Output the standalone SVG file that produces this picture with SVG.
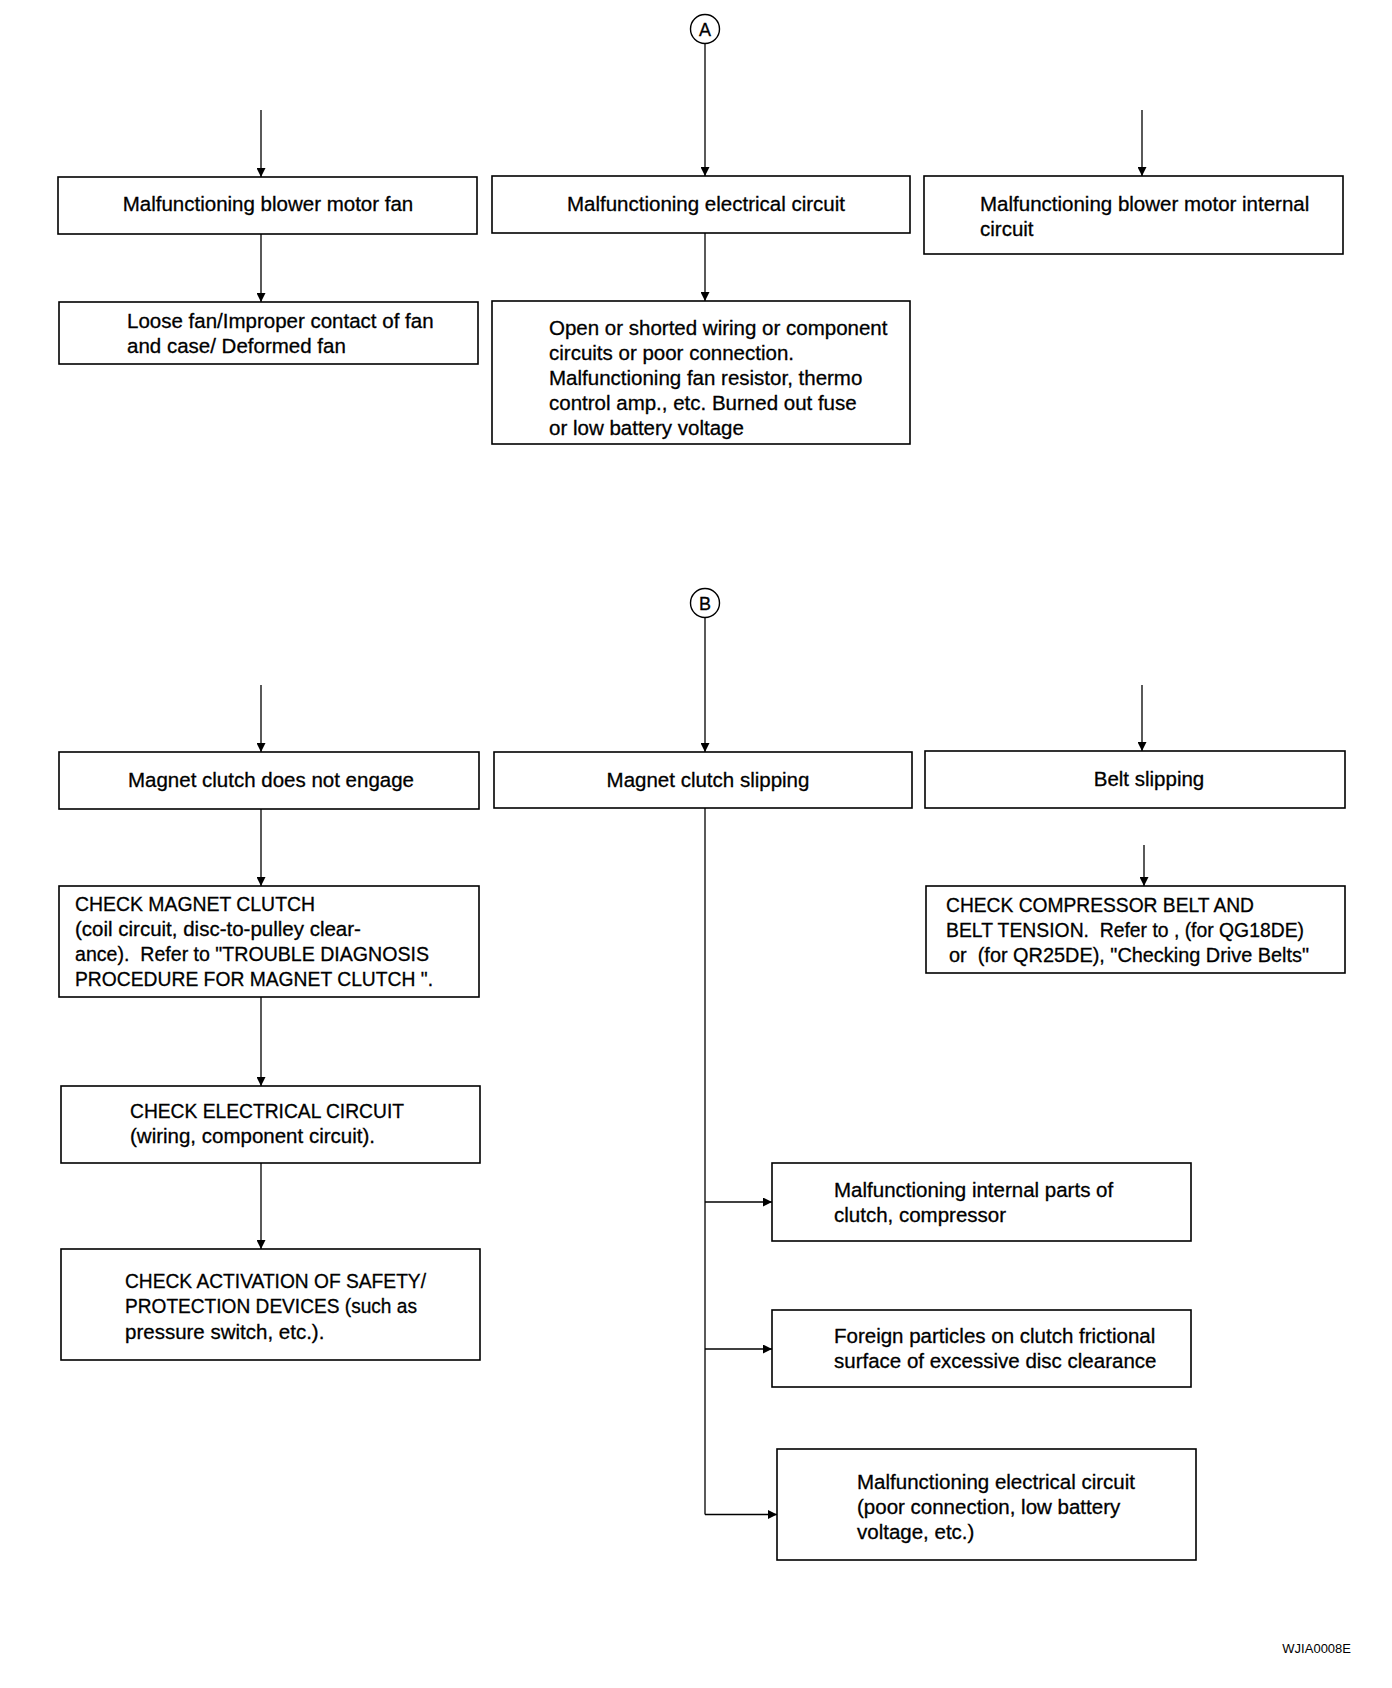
<svg xmlns="http://www.w3.org/2000/svg" width="1392" height="1688" viewBox="0 0 1392 1688">
<style>
  .box { fill: #fff; stroke: #000; stroke-width: 1.6; }
  .t { font-family: "Liberation Sans", Arial, Helvetica, sans-serif; font-size: 20.5px; fill: #000; stroke: #000; stroke-width: 0.3; white-space: pre; }
  .c { text-anchor: middle; }
  .ln { stroke: #000; stroke-width: 1.3; fill: none; }
  .ar { marker-end: url(#ah); }
  .circ { fill: #fff; stroke: #000; stroke-width: 1.4; }
  .lbl { font-family: "Liberation Sans", Arial, Helvetica, sans-serif; font-size: 18px; fill: #000; stroke: #000; stroke-width: 0.3; text-anchor: middle; }
  .id { font-family: "Liberation Sans", Arial, Helvetica, sans-serif; font-size: 13px; fill: #000; text-anchor: end; }
</style>
<defs>
  <marker id="ah" markerUnits="userSpaceOnUse" markerWidth="9" markerHeight="9" refX="9" refY="4.5" orient="auto">
    <path d="M0,0 L9,4.5 L0,9 z" fill="#000"/>
  </marker>
</defs>
<rect width="1392" height="1688" fill="#fff"/>

<g id="connectors">
  <line class="ln ar" x1="705" y1="44" x2="705" y2="176"/>
  <line class="ln ar" x1="261" y1="110" x2="261" y2="177"/>
  <line class="ln ar" x1="1142" y1="110" x2="1142" y2="176"/>
  <line class="ln ar" x1="261" y1="234" x2="261" y2="302"/>
  <line class="ln ar" x1="705" y1="233" x2="705" y2="301"/>
  <line class="ln ar" x1="705" y1="617" x2="705" y2="752"/>
  <line class="ln ar" x1="261" y1="685" x2="261" y2="752"/>
  <line class="ln ar" x1="1142" y1="685" x2="1142" y2="751"/>
  <line class="ln ar" x1="261" y1="809" x2="261" y2="886"/>
  <line class="ln ar" x1="261" y1="997" x2="261" y2="1086"/>
  <line class="ln ar" x1="261" y1="1163" x2="261" y2="1249"/>
  <line class="ln ar" x1="1144" y1="845" x2="1144" y2="886"/>
  <line class="ln" x1="705" y1="808" x2="705" y2="1514.5"/>
  <line class="ln ar" x1="705" y1="1202" x2="772" y2="1202"/>
  <line class="ln ar" x1="705" y1="1349" x2="772" y2="1349"/>
  <line class="ln ar" x1="705" y1="1514.5" x2="777" y2="1514.5"/>
</g>

<g id="conn-A">
  <circle class="circ" cx="705" cy="29" r="14.5"/>
  <text class="lbl" x="705" y="35.5">A</text>
</g>
<g id="conn-B">
  <circle class="circ" cx="705" cy="603" r="14.5"/>
  <text class="lbl" x="705" y="609.5">B</text>
</g>

<g id="n-blower-fan">
  <rect class="box" x="58" y="177" width="419" height="57"/>
  <text class="t c" x="268" y="211">Malfunctioning blower motor fan</text>
</g>
<g id="n-elec-circuit">
  <rect class="box" x="492" y="176" width="418" height="57"/>
  <text class="t c" x="706" y="211">Malfunctioning electrical circuit</text>
</g>
<g id="n-blower-internal">
  <rect class="box" x="924" y="176" width="419" height="78"/>
  <text class="t" x="980" y="211">Malfunctioning blower motor internal</text>
  <text class="t" x="980" y="236">circuit</text>
</g>
<g id="n-loose-fan">
  <rect class="box" x="59" y="302" width="419" height="62"/>
  <text class="t" x="127" y="328">Loose fan/Improper contact of fan</text>
  <text class="t" x="127" y="353">and case/ Deformed fan</text>
</g>
<g id="n-open-shorted">
  <rect class="box" x="492" y="301" width="418" height="143"/>
  <text class="t" x="549" y="335">Open or shorted wiring or component</text>
  <text class="t" x="549" y="360">circuits or poor connection.</text>
  <text class="t" x="549" y="385">Malfunctioning fan resistor, thermo</text>
  <text class="t" x="549" y="410">control amp., etc. Burned out fuse</text>
  <text class="t" x="549" y="435">or low battery voltage</text>
</g>

<g id="n-no-engage">
  <rect class="box" x="59" y="752" width="420" height="57"/>
  <text class="t c" x="271" y="787">Magnet clutch does not engage</text>
</g>
<g id="n-clutch-slipping">
  <rect class="box" x="494" y="752" width="418" height="56"/>
  <text class="t c" x="708" y="787">Magnet clutch slipping</text>
</g>
<g id="n-belt-slipping">
  <rect class="box" x="925" y="751" width="420" height="57"/>
  <text class="t c" x="1149" y="786">Belt slipping</text>
</g>
<g id="n-check-magnet">
  <rect class="box" x="59" y="886" width="420" height="111"/>
  <text class="t" x="75" y="911" textLength="240" lengthAdjust="spacingAndGlyphs">CHECK MAGNET CLUTCH</text>
  <text class="t" x="75" y="936">(coil circuit, disc-to-pulley clear-</text>
  <text class="t" x="75" y="961" textLength="354" lengthAdjust="spacingAndGlyphs">ance).  Refer to "TROUBLE DIAGNOSIS</text>
  <text class="t" x="75" y="986" textLength="358" lengthAdjust="spacingAndGlyphs">PROCEDURE FOR MAGNET CLUTCH ".</text>
</g>
<g id="n-check-belt">
  <rect class="box" x="926" y="886" width="419" height="87"/>
  <text class="t" x="946" y="912" textLength="308" lengthAdjust="spacingAndGlyphs">CHECK COMPRESSOR BELT AND</text>
  <text class="t" x="946" y="937" textLength="358" lengthAdjust="spacingAndGlyphs">BELT TENSION.  Refer to , (for QG18DE)</text>
  <text class="t" x="949" y="962" textLength="360" lengthAdjust="spacingAndGlyphs">or  (for QR25DE), "Checking Drive Belts"</text>
</g>
<g id="n-check-elec">
  <rect class="box" x="61" y="1086" width="419" height="77"/>
  <text class="t" x="130" y="1118" textLength="274" lengthAdjust="spacingAndGlyphs">CHECK ELECTRICAL CIRCUIT</text>
  <text class="t" x="130" y="1143">(wiring, component circuit).</text>
</g>
<g id="n-check-safety">
  <rect class="box" x="61" y="1249" width="419" height="111"/>
  <text class="t" x="125" y="1288" textLength="301" lengthAdjust="spacingAndGlyphs">CHECK ACTIVATION OF SAFETY/</text>
  <text class="t" x="125" y="1313" textLength="292" lengthAdjust="spacingAndGlyphs">PROTECTION DEVICES (such as</text>
  <text class="t" x="125" y="1339">pressure switch, etc.).</text>
</g>
<g id="n-internal-parts">
  <rect class="box" x="772" y="1163" width="419" height="78"/>
  <text class="t" x="834" y="1197">Malfunctioning internal parts of</text>
  <text class="t" x="834" y="1222">clutch, compressor</text>
</g>
<g id="n-foreign">
  <rect class="box" x="772" y="1310" width="419" height="77"/>
  <text class="t" x="834" y="1343">Foreign particles on clutch frictional</text>
  <text class="t" x="834" y="1368">surface of excessive disc clearance</text>
</g>
<g id="n-elec-poor">
  <rect class="box" x="777" y="1449" width="419" height="111"/>
  <text class="t" x="857" y="1489">Malfunctioning electrical circuit</text>
  <text class="t" x="857" y="1514">(poor connection, low battery</text>
  <text class="t" x="857" y="1539">voltage, etc.)</text>
</g>

<text class="id" x="1351" y="1653">WJIA0008E</text>
</svg>
